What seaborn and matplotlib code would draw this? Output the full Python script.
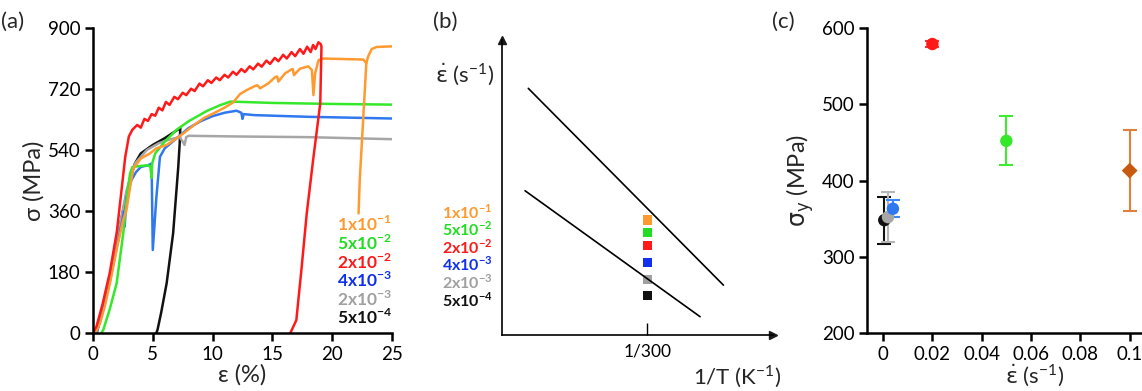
import numpy as np
import pandas as pd
import matplotlib
matplotlib.use('Agg')
import matplotlib.pyplot as plt
import seaborn as sns

# --- data: (a) stress-strain curves, one entry per strain rate ---
rates = ['5x10-4', '2x10-3', '4x10-3', '5x10-2', '1x10-1', '2x10-2']

black_strain = [0.3, 1.0, 2.0, 2.5, 3.0, 3.5, 4.0, 5.0, 6.0, 7.0, 7.3, 7.25, 7.13, 6.7, 6.16, 5.7, 5.4, 5.3]
black_stress = [0, 90, 270, 360, 440, 500, 530, 555, 575, 598, 605, 560, 490, 294, 147, 60, 10, 0]

gray_strain = [0.3, 1.0, 2.0, 2.8, 3.5, 4.5, 5.5, 6.5, 7.25, 7.5, 7.65, 7.8, 8.0, 12, 18, 25]
gray_stress = [0, 90, 270, 420, 500, 540, 560, 572, 578, 565, 555, 578, 582, 580, 578, 572]

blue_strain = [0.3, 0.8, 1.4, 2.0, 2.5, 2.6, 2.65, 2.8, 3.2, 3.6, 4.0, 4.6, 4.9, 5.0, 5.3, 5.6, 6.0,
               7.0, 8.0, 9.0, 10.0, 11.0, 12.0, 12.4, 12.5, 12.6, 13.5, 18, 25]
blue_stress = [0, 60, 150, 255, 340, 360, 314, 400, 450, 475, 490, 495, 500, 245, 400, 520, 545,
               575, 605, 625, 640, 650, 656, 650, 632, 646, 643, 638, 633]

green_strain = [0.7, 0.86, 1.4, 1.98, 2.53, 2.9, 3.1, 3.3, 4.0, 4.6, 4.8, 4.9, 4.95, 5.2, 6.0, 7.0,
                8.0, 9.5, 10.6, 11.5, 15, 20, 25]
green_stress = [0, 9, 70, 147, 294, 420, 471, 490, 493, 495, 490, 458, 500, 530, 565, 600,
                625, 655, 672, 683, 679, 676, 674]

orange_strain = [0.2, 0.6, 1.0, 1.42, 2.0, 2.5, 2.8, 3.1, 3.37, 4.0, 4.77, 5.3, 6.16, 6.8, 7.55, 8.5,
                 9.3, 10.06, 11.0, 11.7, 12.29, 12.85, 13.55, 13.75, 13.97, 14.67, 15.22, 15.4, 15.5,
                 16.05, 16.6, 16.7, 16.8, 17.3, 18.0, 18.3, 18.43, 18.57, 18.85, 19.26, 22.6, 22.85,
                 22.3, 22.2]
orange_stress = [0, 30, 80, 147, 250, 330, 363, 430, 485, 515, 530, 545, 555, 570, 589, 615,
                 635, 648, 665, 680, 705, 717, 729, 731, 722, 737, 755, 757, 742,
                 766, 778, 779, 761, 780, 787, 776, 702, 766, 805, 810, 807, 796,
                 451, 353]
# reload branch of the 1x10-1 curve
orange2_strain = [22.85, 23.0, 23.3, 23.7, 25]
orange2_stress = [796, 816, 838, 844, 846]

red_strain = [0, 0.3, 0.8, 1.4, 2.0, 2.7, 3.0, 3.3, 3.7, 4.0, 4.3, 4.6, 4.9, 5.2, 5.5, 5.8, 6.1, 6.4,
              6.8, 7.1, 7.5, 7.8, 8.2, 8.5, 8.9, 9.2, 9.6, 9.9, 10.3, 10.6, 11.0, 11.3, 11.7, 12.0,
              12.4, 12.7, 13.1, 13.4, 13.8, 14.1, 14.5, 14.8, 15.2, 15.5, 15.9, 16.2, 16.6, 16.9,
              17.3, 17.6, 17.9, 18.2, 18.4, 18.6, 18.85, 19.05, 19.1, 19.0, 18.4, 17.87, 17.45,
              17.0, 16.5]
red_stress = [0, 20, 85, 177, 300, 520, 580, 600, 614, 606, 632, 626, 646, 641, 665, 657, 682, 673,
              697, 690, 709, 702, 721, 714, 736, 728, 746, 738, 754, 746, 762, 754, 771, 762,
              779, 770, 787, 778, 795, 786, 804, 794, 812, 802, 821, 810, 829, 817,
              838, 824, 845, 829, 850, 838, 858, 852, 845, 678, 510, 353, 196,
              38, 0]

# --- data: (b) schematic ---
upper_x = [0.097, 0.817]
upper_y = [0.836, 0.169]
lower_x = [0.085, 0.731]
lower_y = [0.489, 0.062]
square_x = [0.536] * 6
square_y = [0.390, 0.348, 0.303, 0.245, 0.189, 0.133]
square_rates = ['1x10-1', '5x10-2', '2x10-2', '4x10-3', '2x10-3', '5x10-4']

# --- data: (c) yield stress vs strain rate ---
c_rate = [0.0005, 0.002, 0.004, 0.02, 0.05, 0.1]
c_sigma = [348, 352, 363, 579, 452, 413]
c_err = [31, 33, 11, 4, 32, 53]

line_colors = {'5x10-4': '#111111', '2x10-3': '#a6a6a6', '4x10-3': '#2f78f0',
               '5x10-2': '#35e82a', '1x10-1': '#ff9a30', '2x10-2': '#ff1a1a'}
text_colors = {'1x10-1': '#ff9a30', '5x10-2': '#22dd22', '2x10-2': '#ff1a1a',
               '4x10-3': '#1030ee', '2x10-3': '#a0a0a0', '5x10-4': '#111111'}
c_colors = ['#111111', '#a6a6a6', '#2f78f0', '#ff1a1a', '#35e82a', '#c85a10']
c_err_colors = ['#111111', '#b5b5b5', '#3a88f5', '#ff3030', '#40ea30', '#e0803a']

sns.set_theme(style='white')
plt.rcParams['font.family'] = ['Lato', 'DejaVu Sans']
plt.rcParams['mathtext.fontset'] = 'dejavusans'

EDOT = r'$\dot{\mathrm{\varepsilon}}$'


def sup_label(r):
    base, exp = r.split('-')
    return base + r'$^{\mathregular{-' + exp + '}}$'


def style_axis(ax):
    for s in ['top', 'right']:
        ax.spines[s].set_visible(False)
    for s in ['left', 'bottom']:
        ax.spines[s].set_color('black')
        ax.spines[s].set_linewidth(1.8)
    ax.tick_params(direction='out', length=6, width=1.8, labelsize=13.5, colors='black', pad=3,
                   bottom=True, left=True)


fig = plt.figure(figsize=(11.42, 3.91), dpi=100)
ax_a = fig.add_axes([0.0814, 0.1483, 0.2619, 0.780])
ax_b = fig.add_axes([0.4396, 0.1432, 0.2373, 0.7545])
ax_c = fig.add_axes([0.7592, 0.1483, 0.2408, 0.780])

# ---------------- (a) ----------------
curves = {'5x10-4': [(black_strain, black_stress)],
          '2x10-3': [(gray_strain, gray_stress)],
          '4x10-3': [(blue_strain, blue_stress)],
          '5x10-2': [(green_strain, green_stress)],
          '1x10-1': [(orange_strain, orange_stress), (orange2_strain, orange2_stress)],
          '2x10-2': [(red_strain, red_stress)]}
rows = []
for rate in rates:
    for k, (xs, ys) in enumerate(curves[rate]):
        for x, y in zip(xs, ys):
            rows.append({'strain': x, 'stress': y, 'rate': rate, 'piece': f'{rate}_{k}'})
df_a = pd.DataFrame(rows)
for rate in rates:
    sub = df_a[df_a['rate'] == rate]
    sns.lineplot(data=sub, x='strain', y='stress', units='piece', estimator=None, sort=False,
                 color=line_colors[rate], linewidth=1.8, ax=ax_a, legend=False)
ax_a.set_xlim(0, 25)
ax_a.set_ylim(0, 900)
ax_a.set_xticks([0, 5, 10, 15, 20, 25])
ax_a.set_yticks([0, 180, 360, 540, 720, 900])
style_axis(ax_a)
ax_a.set_xlabel('ε (%)', fontsize=17, labelpad=1)
ax_a.set_ylabel('σ (MPa)', fontsize=17, labelpad=2)
legend_order = ['1x10-1', '5x10-2', '2x10-2', '4x10-3', '2x10-3', '5x10-4']
for i, r in enumerate(legend_order):
    ax_a.text(1.0, 0.355 - i * 0.061, sup_label(r), transform=ax_a.transAxes, ha='right', va='center',
              color=text_colors[r], fontsize=12.5, fontweight='bold')

# ---------------- (b) ----------------
sns.lineplot(x=upper_x, y=upper_y, color='black', linewidth=1.2, ax=ax_b)
sns.lineplot(x=lower_x, y=lower_y, color='black', linewidth=1.2, ax=ax_b)
df_b = pd.DataFrame({'x': square_x, 'y': square_y, 'rate': square_rates})
sns.scatterplot(data=df_b, x='x', y='y', hue='rate', palette=text_colors, marker='s', s=45,
                edgecolor='none', legend=False, ax=ax_b)
ax_b.set_xlim(0, 1)
ax_b.set_ylim(0, 1)
for s in ['top', 'right']:
    ax_b.spines[s].set_visible(False)
for s in ['left', 'bottom']:
    ax_b.spines[s].set_color('black')
    ax_b.spines[s].set_linewidth(1.2)
ax_b.plot(1, 0, '>k', markersize=6, transform=ax_b.transAxes, clip_on=False)
ax_b.plot(0, 1, '^k', markersize=6, transform=ax_b.transAxes, clip_on=False)
ax_b.set_xticks([0.536])
ax_b.set_xticklabels(['1/300'])
ax_b.set_yticks([])
ax_b.tick_params(axis='x', direction='in', length=9, width=1.0, labelsize=12.5, colors='black',
                 pad=6, bottom=True)
ax_b.set_xlabel('1/T (K$^{\\mathregular{-1}}$)', fontsize=16, va='center', ha='right')
ax_b.xaxis.set_label_coords(1.03, -0.142)
ax_b.set_ylabel('')
ax_b.text(-0.03, 0.88, EDOT + ' (s$^{\\mathregular{-1}}$)', transform=ax_b.transAxes,
          ha='right', va='center', fontsize=16)
for r, yy in zip(square_rates, [0.417, 0.357, 0.298, 0.238, 0.178, 0.119]):
    ax_b.text(-0.035, yy, sup_label(r), transform=ax_b.transAxes, ha='right', va='center',
              color=text_colors[r], fontsize=11.5, fontweight='bold')

# ---------------- (c) ----------------
for x, y, e, ec in zip(c_rate, c_sigma, c_err, c_err_colors):
    ax_c.errorbar(x, y, yerr=e, fmt='none', ecolor=ec, elinewidth=1.5, capsize=5, capthick=1.5)
df_c = pd.DataFrame({'rate': c_rate, 'sigma': c_sigma, 'k': [str(i) for i in range(6)]})
sns.scatterplot(data=df_c.iloc[:5], x='rate', y='sigma', hue='k', palette=c_colors[:5], s=80,
                edgecolor='none', legend=False, ax=ax_c, zorder=3)
sns.scatterplot(data=df_c.iloc[5:], x='rate', y='sigma', color=c_colors[5], marker='D', s=65,
                edgecolor='none', legend=False, ax=ax_c, zorder=3)
ax_c.set_xlim(-0.0065, 0.105)
ax_c.set_ylim(200, 600)
ax_c.set_xticks([0, 0.02, 0.04, 0.06, 0.08, 0.1])
ax_c.set_xticklabels(['0', '0.02', '0.04', '0.06', '0.08', '0.1'])
ax_c.set_yticks([200, 300, 400, 500, 600])
style_axis(ax_c)
ax_c.set_xlabel(EDOT + ' (s$^{\\mathregular{-1}}$)', fontsize=16, va='center')
ax_c.xaxis.set_label_coords(0.61, -0.142)
ax_c.set_ylabel(r'$\mathrm{\sigma_y}$ (MPa)', fontsize=17, labelpad=4)

# panel letters
fig.text(0.001, 0.945, '(a)', fontsize=16, va='center')
fig.text(0.379, 0.945, '(b)', fontsize=16, va='center')
fig.text(0.676, 0.945, '(c)', fontsize=16, va='center')

fig.savefig('out.png', dpi=100)
